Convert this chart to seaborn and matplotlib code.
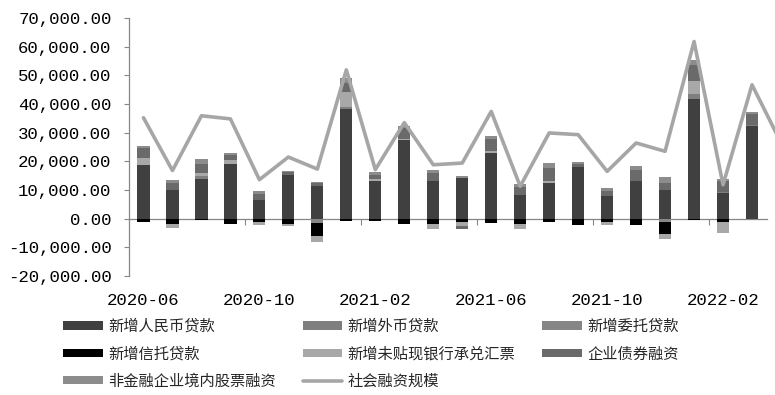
import numpy as np
import matplotlib
matplotlib.use("Agg")
import matplotlib.pyplot as plt
import seaborn as sns
from matplotlib.patches import Patch
from matplotlib.lines import Line2D

months = ["2020-06", "2020-07", "2020-08", "2020-09", "2020-10", "2020-11",
          "2020-12", "2021-01", "2021-02", "2021-03", "2021-04", "2021-05",
          "2021-06", "2021-07", "2021-08", "2021-09", "2021-10", "2021-11",
          "2021-12", "2022-01", "2022-02", "2022-03"]
line_months = months + ["2022-04"]

rmb_loans = [18800, 10100, 13900, 19200, 6600, 15300, 11500, 38300, 13300, 27400, 13000,
             14200, 22900, 8400, 12600, 18000, 7800, 13000, 10100, 41800, 9000, 32400]
fx_loans = [0, 0, 900, 0, 0, 0, 0, 700, 0, 0, 0,
            0, 0, 0, 0, 0, 0, 0, 0, 1700, 300, 300]
entrusted = [0, -200, 0, 0, 0, 0, -1500, 0, 0, 0, 0,
             0, 0, 0, 0, 0, 0, 0, -1000, 0, 0, 0]
trust = [-1200, -1700, -500, -2000, -1200, -2000, -4500, -800, -900, -1700, -1700,
         -1300, -1500, -1700, -1200, -2300, -1100, -2300, -4500, -600, -1000, 0]
undiscounted = [2400, -1300, 1150, 1300, -1000, -600, -2300, 5300, 600, 300, -1900,
                -1100, 600, -2000, 600, 0, -1100, 0, -1700, 4500, -4000, 0]
corp_bonds = [3400, 2400, 3250, 1600, 2000, 1000, 900, 2900, 1400, 3900, 3000,
              -1100, 4300, 2700, 4300, 1000, 2000, 4100, 2300, 5600, 3900, 3700]
stocks = [800, 1000, 1500, 900, 1150, 400, 500, 1700, 900, 700, 1000,
          800, 900, 1000, 1900, 600, 900, 1100, 2100, 1700, 600, 800]
tsf = [35200, 16800, 35900, 34800, 13600, 21500, 17300, 51900, 17100, 33500, 18800,
       19400, 37400, 11300, 29900, 29300, 16500, 26400, 23500, 61800, 11800, 46700, 26500]

series_names = ["新增人民币贷款", "新增外币贷款", "新增委托贷款", "新增信托贷款",
                "新增未贴现银行承兑汇票", "企业债券融资", "非金融企业境内股票融资"]
line_name = "社会融资规模"
series_vals = [rmb_loans, fx_loans, entrusted, trust, undiscounted, corp_bonds, stocks]
series_colors = ["#404040", "#7f7f7f", "#868686", "#000000", "#a8a8a8", "#6a6a6a", "#8c8c8c"]
line_color = "#a6a6a6"
axis_gray = "#868686"
y_ticks = list(range(-20000, 70001, 10000))

sns.set_theme(style="white")
plt.rcParams["font.family"] = ["Noto Sans CJK SC", "DejaVu Sans"]

W, H = 775, 395
fig = plt.figure(figsize=(W / 100, H / 100), dpi=100)
ax = fig.add_axes([129 / W, 1 - 276 / H, 1 - 129 / W, (276 - 18) / H])

n = len(months)
x = np.arange(n)
pos_base = np.zeros(n)
neg_base = np.zeros(n)
for vals, col in zip(series_vals, series_colors):
    v = np.array(vals, dtype=float)
    pos = np.where(v > 0, v, 0)
    neg = np.where(v < 0, v, 0)
    ax.bar(x, pos, bottom=pos_base, width=0.42, color=col, linewidth=0, zorder=2)
    ax.bar(x, neg, bottom=neg_base, width=0.42, color=col, linewidth=0, zorder=2)
    pos_base += pos
    neg_base += neg

sns.lineplot(x=np.arange(len(line_months)), y=tsf, ax=ax, color=line_color,
             linewidth=2.6, zorder=3, legend=False)

ax.set_xlim(-0.5, (W - 143) / 29)
ax.set_ylim(-20000, 70000)
ax.set_yticks(y_ticks)
ax.set_yticklabels([f"{t:,.2f}" for t in y_ticks],
                   family=["Liberation Mono", "DejaVu Sans Mono"], fontsize=12.5)
ax.set_xticks(x[::4])
ax.set_xticklabels(months[::4], family=["Liberation Mono", "DejaVu Sans Mono"], fontsize=12.5)
ax.set_xlabel("")
ax.set_ylabel("")
ax.tick_params(axis="y", direction="out", length=3.6, width=0.8, color=axis_gray, pad=9,
               labelcolor="black", left=True)
ax.tick_params(axis="x", length=0, pad=12, labelcolor="black")
for s in ["top", "right", "bottom"]:
    ax.spines[s].set_visible(False)
ax.spines["left"].set_color(axis_gray)
ax.spines["left"].set_linewidth(0.9)
ax.grid(False)

sec = ax.secondary_xaxis(20000 / 90000)
sec.set_xticks(np.arange(3.5, n, 4))
sec.tick_params(axis="x", direction="out", length=4, width=0.8, color=axis_gray,
                labelbottom=False)
sec.spines["bottom"].set_color(axis_gray)
sec.spines["bottom"].set_linewidth(0.9)
sec.spines["bottom"].set_bounds(-0.5, n - 0.5)

handles = [Patch(facecolor=c, edgecolor="none") for c in series_colors]
handles.append(Line2D([], [], color=line_color, linewidth=2.6))
labels = series_names + [line_name]
order = [0, 3, 6, 1, 4, 7, 2, 5]
fig.legend([handles[i] for i in order], [labels[i] for i in order],
           loc="upper left", bbox_to_anchor=(63 / W, 1 - 318 / H), ncol=3,
           frameon=False, fontsize=11, handlelength=2.6, handleheight=0.45,
           handletextpad=0.35, columnspacing=1.75, labelspacing=0.68, borderpad=0,
           borderaxespad=0)

fig.savefig("out.png", dpi=100)
